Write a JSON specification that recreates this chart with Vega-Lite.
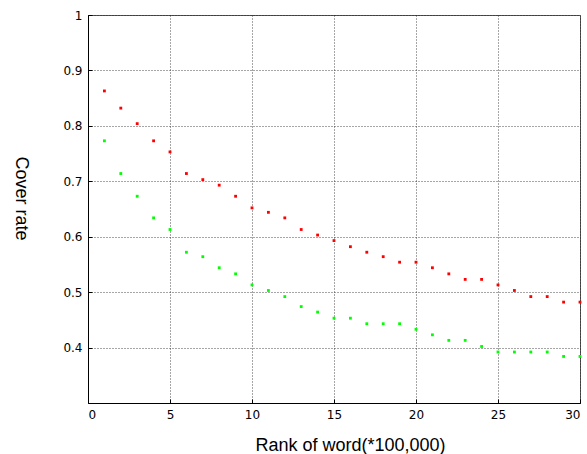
{
  "$schema": "https://vega.github.io/schema/vega-lite/v6.json",
  "width": 492,
  "height": 388,
  "autosize": {"type": "none"},
  "padding": {"left": 88, "top": 15, "right": 7, "bottom": 51},
  "background": "white",
  "config": {
    "view": {"stroke": "#555555", "strokeWidth": 1},
    "font": "Liberation Sans",
    "axis": {
      "labelFont": "DejaVu Sans",
      "labelFontSize": 12,
      "labelColor": "black",
      "titleFont": "Liberation Sans",
      "titleFontSize": 18,
      "titleFontWeight": "normal",
      "titleColor": "black",
      "domainColor": "black",
      "tickColor": "black",
      "gridColor": "#222222",
      "gridDash": [1, 2],
      "gridOpacity": 0.8,
      "gridWidth": 1
    },
    "axisX": {"labelFontSize": 12},
    "axisY": {"labelFontSize": 12}
  },
  "data": {
    "values": [
      {"x": 1, "rate": 0.863, "series": "A"},
      {"x": 2, "rate": 0.832, "series": "A"},
      {"x": 3, "rate": 0.804, "series": "A"},
      {"x": 4, "rate": 0.773, "series": "A"},
      {"x": 5, "rate": 0.753, "series": "A"},
      {"x": 6, "rate": 0.714, "series": "A"},
      {"x": 7, "rate": 0.703, "series": "A"},
      {"x": 8, "rate": 0.693, "series": "A"},
      {"x": 9, "rate": 0.673, "series": "A"},
      {"x": 10, "rate": 0.652, "series": "A"},
      {"x": 11, "rate": 0.644, "series": "A"},
      {"x": 12, "rate": 0.634, "series": "A"},
      {"x": 13, "rate": 0.613, "series": "A"},
      {"x": 14, "rate": 0.603, "series": "A"},
      {"x": 15, "rate": 0.593, "series": "A"},
      {"x": 16, "rate": 0.582, "series": "A"},
      {"x": 17, "rate": 0.572, "series": "A"},
      {"x": 18, "rate": 0.564, "series": "A"},
      {"x": 19, "rate": 0.554, "series": "A"},
      {"x": 20, "rate": 0.554, "series": "A"},
      {"x": 21, "rate": 0.544, "series": "A"},
      {"x": 22, "rate": 0.533, "series": "A"},
      {"x": 23, "rate": 0.523, "series": "A"},
      {"x": 24, "rate": 0.523, "series": "A"},
      {"x": 25, "rate": 0.513, "series": "A"},
      {"x": 26, "rate": 0.503, "series": "A"},
      {"x": 27, "rate": 0.492, "series": "A"},
      {"x": 28, "rate": 0.492, "series": "A"},
      {"x": 29, "rate": 0.482, "series": "A"},
      {"x": 30, "rate": 0.482, "series": "A"},
      {"x": 1, "rate": 0.773, "series": "B"},
      {"x": 2, "rate": 0.714, "series": "B"},
      {"x": 3, "rate": 0.673, "series": "B"},
      {"x": 4, "rate": 0.634, "series": "B"},
      {"x": 5, "rate": 0.613, "series": "B"},
      {"x": 6, "rate": 0.572, "series": "B"},
      {"x": 7, "rate": 0.564, "series": "B"},
      {"x": 8, "rate": 0.544, "series": "B"},
      {"x": 9, "rate": 0.533, "series": "B"},
      {"x": 10, "rate": 0.513, "series": "B"},
      {"x": 11, "rate": 0.503, "series": "B"},
      {"x": 12, "rate": 0.492, "series": "B"},
      {"x": 13, "rate": 0.474, "series": "B"},
      {"x": 14, "rate": 0.464, "series": "B"},
      {"x": 15, "rate": 0.453, "series": "B"},
      {"x": 16, "rate": 0.453, "series": "B"},
      {"x": 17, "rate": 0.443, "series": "B"},
      {"x": 18, "rate": 0.443, "series": "B"},
      {"x": 19, "rate": 0.443, "series": "B"},
      {"x": 20, "rate": 0.433, "series": "B"},
      {"x": 21, "rate": 0.423, "series": "B"},
      {"x": 22, "rate": 0.413, "series": "B"},
      {"x": 23, "rate": 0.413, "series": "B"},
      {"x": 24, "rate": 0.402, "series": "B"},
      {"x": 25, "rate": 0.392, "series": "B"},
      {"x": 26, "rate": 0.392, "series": "B"},
      {"x": 27, "rate": 0.392, "series": "B"},
      {"x": 28, "rate": 0.392, "series": "B"},
      {"x": 29, "rate": 0.384, "series": "B"},
      {"x": 30, "rate": 0.384, "series": "B"}
    ]
  },
  "mark": {"type": "square", "filled": true, "size": 8, "opacity": 1},
  "encoding": {
    "x": {
      "field": "x",
      "type": "quantitative",
      "scale": {"domain": [0, 30], "nice": false, "zero": false},
      "axis": {
        "values": [0, 5, 10, 15, 20, 25, 30],
        "title": "Rank of word(*100,000)",
        "titleX": 262,
        "titleY": 47,
        "titleAlign": "center",
        "titleBaseline": "alphabetic",
        "labelFont": "DejaVu Sans",
        "labelFontSize": 12,
        "labelPadding": 10,
        "tickSize": -4,
        "grid": true
      }
    },
    "y": {
      "field": "rate",
      "type": "quantitative",
      "scale": {"domain": [0.3, 1], "nice": false, "zero": false},
      "axis": {
        "values": [0.4, 0.5, 0.6, 0.7, 0.8, 0.9, 1],
        "labelExpr": "datum.value == 1 ? '1' : format(datum.value, '.1f')",
        "title": "Cover rate",
        "titleAngle": 90,
        "titleX": -68,
        "titleY": 183,
        "titleAlign": "center",
        "titleBaseline": "middle",
        "labelFont": "DejaVu Sans",
        "labelFontSize": 12,
        "labelPadding": 10,
        "tickSize": -4,
        "grid": true
      }
    },
    "color": {
      "field": "series",
      "type": "nominal",
      "scale": {"domain": ["A", "B"], "range": ["#ff0000", "#00ff00"]},
      "legend": null
    }
  }
}
